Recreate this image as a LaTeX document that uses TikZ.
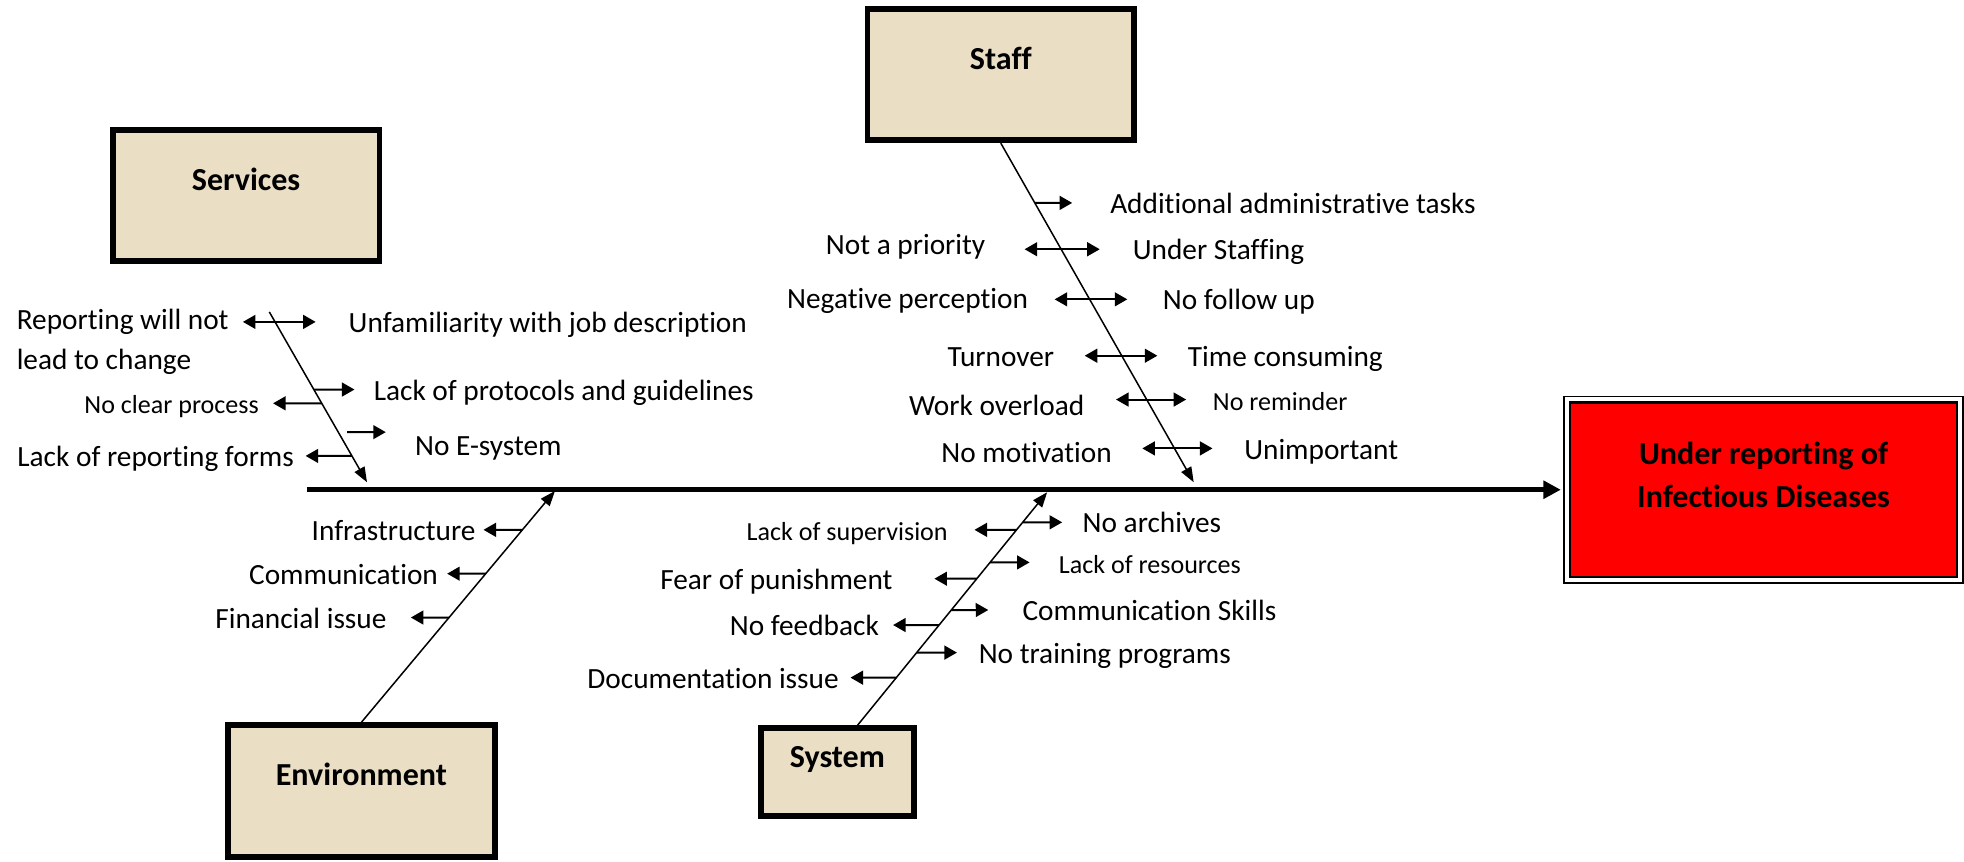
\documentclass[tikz,border=0pt]{standalone}
\usepackage{fontspec}
\setmainfont{Carlito}[Ligatures=NoCommon]
\usetikzlibrary{arrows.meta}

\definecolor{parchment}{RGB}{234,223,196}
\newcommand{\mainsz}{\fontsize{11.7}{16}\selectfont}
\newcommand{\smallsz}{\fontsize{10.4}{13}\selectfont}
\newcommand{\headsz}{\fontsize{12.8}{17}\selectfont\bfseries}

\begin{document}
\begin{tikzpicture}[x = .5pt, y = -.5pt,
  cause/.style={draw, line width=2.3pt, fill=parchment, minimum width=106.5pt, minimum height=52.5pt, inner sep=0},
  head/.style={font=\headsz, inner sep=0},
  title/.style={head, text height=9pt, text depth=3pt},
  lbl/.style={font=\mainsz, inner sep=0, text height=10pt, text depth=1.5pt},
  sml/.style={lbl, font=\smallsz},
  bone/.style={line width=.6pt, -{Triangle[length=6pt,width=4.5pt]}},
  twig/.style={line width=.8pt, -{Triangle[length=5pt,width=5.5pt]}},
  twin/.style={line width=.8pt, {Triangle[length=5pt,width=5.5pt]}-{Triangle[length=5pt,width=5.5pt]}},
  spine/.style={line width=1.8pt, -{Triangle[length=7pt,width=7pt]}}]
\useasboundingbox (0,0) rectangle (1568,688);

% Effect box
\node[draw, line width=1pt, fill=red, minimum width=154.5pt, minimum height=69.5pt] (effect) at (1408,391) {};
\draw[line width=.6pt] ([shift={(-1.9pt,1.9pt)}]effect.north west) rectangle ([shift={(1.9pt,-1.9pt)}]effect.south east);
\node[head, align=center] (effectT) at ([yshift=6pt]effect.center) {Under reporting of\\Infectious Diseases};

% Cause boxes
\node[cause] (services) at (196.5,156) {};
\node[title] (servicesT) at ([yshift=5pt]services.center) {Services};
\node[cause] (staff) at (799,59.5) {};
\node[title] (staffT) at ([yshift=5pt]staff.center) {Staff};
\node[cause] (environment) at (288.5,631.5) {};
\node[title] (environmentT) at ([yshift=5pt]environment.center) {Environment};
\node[cause, minimum width=61pt, minimum height=35pt] (system) at (668.5,616.5) {};
\node[title] (systemT) at ([yshift=5pt]system.center) {System};

% Spine
\coordinate (spA) at (245,391);
\draw[spine, shorten >=3.2pt] (spA) -- (effect.west);

% Bones
\coordinate (svA) at (215,249);
\coordinate (svB) at (293,385);
\draw[bone] (svA) -- (svB);
\coordinate (stB) at (953,385);
\draw[bone] (staff.south) -- (stB);
\coordinate (enB) at (443,392);
\draw[bone] (environment.north) -- (enB);
\coordinate (syA) at ([xshift=8pt]system.north);
\coordinate (syB) at (836,393);
\draw[bone] (syA) -- (syB);

% Services causes
\node[font=\mainsz, inner sep=0, anchor=west, align=left] (rlc) at (13,273) {Reporting will not\\lead to change};
\node[lbl, anchor=west] (ufj) at (278,257) {Unfamiliarity with job description};
\node[lbl, anchor=west] (lpg) at (298,311) {Lack of protocols and guidelines};
\node[sml, anchor=east] (ncp) at (207,322) {No clear process};
\node[lbl, anchor=west] (nes) at (331,355) {No E-system};
\node[lbl, anchor=east] (lrf) at (235,364) {Lack of reporting forms};
\coordinate (nesY) at ([yshift=5pt]nes.west);
\coordinate (nesZ) at ([yshift=5pt]nes.east);
\draw[twin, shorten <=5.5pt, shorten >=13pt] (rlc.east |- ufj.west) -- (ufj.west);
\draw[twig, shorten >=7.5pt] (intersection of svA--svB and lpg.west--lpg.east) -- (lpg.west);
\draw[twig, shorten >=5.5pt] (intersection of svA--svB and ncp.west--ncp.east) -- (ncp.east);
\draw[twig, shorten <=3.5pt, shorten >=11.5pt] (intersection of svA--svB and nesY--nesZ) -- (nesY);
\draw[twig, shorten >=4.5pt] (intersection of svA--svB and lrf.west--lrf.east) -- (lrf.east);

% Staff causes
\node[lbl, anchor=west] (aat) at (886,162) {Additional administrative tasks};
\node[lbl, anchor=east] (nap) at (787,195) {Not a priority};
\node[lbl, anchor=west] (usf) at (904,199) {Under Staffing};
\node[lbl, anchor=east] (ngp) at (821,238) {Negative perception};
\node[lbl, anchor=west] (nfu) at (928,239) {No follow up};
\node[lbl, anchor=east] (tov) at (842,284) {Turnover};
\node[lbl, anchor=west] (tcs) at (948,284) {Time consuming};
\node[lbl, anchor=east] (wol) at (866,323) {Work overload};
\node[sml, anchor=west] (nrm) at (968,319) {No reminder};
\node[lbl, anchor=east] (nmo) at (888,361) {No motivation};
\node[lbl, anchor=west] (unp) at (993,358) {Unimportant};
\draw[twig, shorten >=15pt] (intersection of staff.south--stB and aat.west--aat.east) -- (aat.west);
\draw[twin, shorten <=15.5pt, shorten >=13pt] (nap.east |- usf.west) -- (usf.west);
\draw[twin, shorten <=10.5pt, shorten >=14pt] (ngp.east |- nfu.west) -- (nfu.west);
\draw[twin, shorten <=12pt, shorten >=12pt] (tov.east |- tcs.west) -- (tcs.west);
\draw[twin, shorten <=12.5pt, shorten >=10.5pt] (wol.east |- nrm.west) -- (nrm.west);
\draw[twin, shorten <=12pt, shorten >=12.5pt] (nmo.east |- unp.west) -- (unp.west);

% Environment causes
\node[lbl, anchor=east] (inf) at (380,423) {Infrastructure};
\node[lbl, anchor=east] (com) at (350,458) {Communication};
\node[lbl, anchor=east] (fin) at (309,493) {Financial issue};
\draw[twig, shorten >=3pt] (intersection of environment.north--enB and inf.west--inf.east) -- (inf.east);
\draw[twig, shorten >=3.5pt] (intersection of environment.north--enB and com.west--com.east) -- (com.east);
\draw[twig, shorten >=9.5pt] (intersection of environment.north--enB and fin.west--fin.east) -- (fin.east);

% System causes
\node[lbl, anchor=west] (nar) at (864,417) {No archives};
\node[sml, anchor=east] (lsu) at (757,423) {Lack of supervision};
\node[sml, anchor=west] (lre) at (845,449) {Lack of resources};
\node[lbl, anchor=east] (fop) at (713,462) {Fear of punishment};
\node[lbl, anchor=west] (csk) at (816,487) {Communication Skills};
\node[lbl, anchor=east] (nfb) at (702,499) {No feedback};
\node[lbl, anchor=west] (ntp) at (781,521) {No training programs};
\node[lbl, anchor=east] (doc) at (670,541) {Documentation issue};
\draw[twig, shorten >=8pt] (intersection of syA--syB and nar.west--nar.east) -- (nar.west);
\draw[twig, shorten >=10.5pt] (intersection of syA--syB and lsu.west--lsu.east) -- (lsu.east);
\draw[twig, shorten >=11.5pt] (intersection of syA--syB and lre.west--lre.east) -- (lre.west);
\draw[twig, shorten >=16.5pt] (intersection of syA--syB and fop.west--fop.east) -- (fop.east);
\draw[twig, shorten >=13.5pt] (intersection of syA--syB and csk.west--csk.east) -- (csk.west);
\draw[twig, shorten >=5.5pt] (intersection of syA--syB and nfb.west--nfb.east) -- (nfb.east);
\draw[twig, shorten >=8.5pt] (intersection of syA--syB and ntp.west--ntp.east) -- (ntp.west);
\draw[twig, shorten >=4.5pt] (intersection of syA--syB and doc.west--doc.east) -- (doc.east);
\end{tikzpicture}
\end{document}
